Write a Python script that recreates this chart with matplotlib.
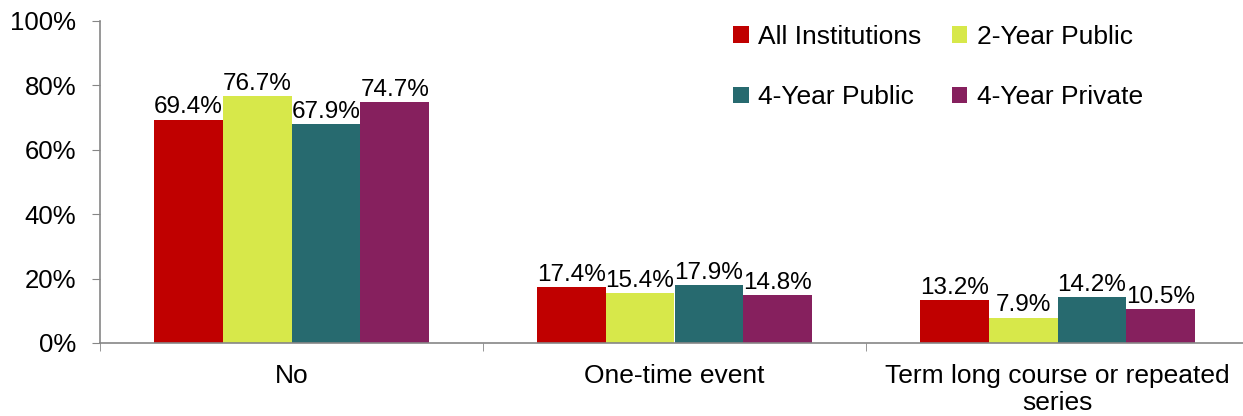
import numpy as np
import matplotlib
matplotlib.use("Agg")
import matplotlib.pyplot as plt
from matplotlib.ticker import FixedLocator, PercentFormatter

plt.rcParams['font.family'] = ['Liberation Sans', 'DejaVu Sans']

# data
categories = ["No", "One-time event", "Term long course or repeated\nseries"]
series_names = ["All Institutions", "2-Year Public", "4-Year Public", "4-Year Private"]
all_inst = [69.4, 17.4, 13.2]
two_year_pub = [76.7, 15.4, 7.9]
four_year_pub = [67.9, 17.9, 14.2]
four_year_priv = [74.7, 14.8, 10.5]
colors = ["#C00000", "#D7E84A", "#276A6F", "#86205E"]

values = [all_inst, two_year_pub, four_year_pub, four_year_priv]
FS = 19

fig = plt.figure(figsize=(12.43, 4.16), dpi=100)
ax = fig.add_axes([100 / 1243, 73 / 416, 1149 / 1243, 322 / 416])

x = np.arange(len(categories))
width = 0.18
bars = []
for i, (name, vals, col) in enumerate(zip(series_names, values, colors)):
    b = ax.bar(x + (i - 1.5) * width, vals, width, color=col, label=name)
    bars.append(b)
    for xi, v in zip(x + (i - 1.5) * width, vals):
        ax.text(xi, v + 2.0, f"{v:.1f}%", ha="center", va="baseline", fontsize=17.5)

ax.set_xlim(-0.5, 2.5)
ax.set_ylim(0, 100)
ax.set_yticks(np.arange(0, 101, 20))
ax.yaxis.set_major_formatter(PercentFormatter(decimals=0))
ax.set_xticks(x)
ax.set_xticklabels(categories, fontsize=FS, linespacing=1.15)
ax.xaxis.set_minor_locator(FixedLocator([-0.5, 0.5, 1.5]))
ax.tick_params(axis="x", which="major", length=0, pad=15)
ax.tick_params(axis="x", which="minor", length=6, color="#868686", direction="out")
ax.tick_params(axis="y", length=6, color="#868686", labelsize=18.5, pad=11)

for s in ["top", "right"]:
    ax.spines[s].set_visible(False)
for s in ["left", "bottom"]:
    ax.spines[s].set_color("#868686")
    ax.spines[s].set_linewidth(1.2)

# legend laid out in rows as in the reference
order = [0, 2, 1, 3]
handles = [bars[k] for k in order]
labels = [series_names[k] for k in order]
ax.legend(handles, labels, ncol=2, frameon=False, fontsize=FS,
          loc="upper left", bbox_to_anchor=(717 / 1243, 1 - 9 / 416),
          bbox_transform=fig.transFigure,
          handlelength=0.6, handleheight=0.6, handletextpad=0.35,
          labelspacing=1.38, columnspacing=1.15, borderaxespad=0.2)

fig.savefig("out.png", dpi=100)
